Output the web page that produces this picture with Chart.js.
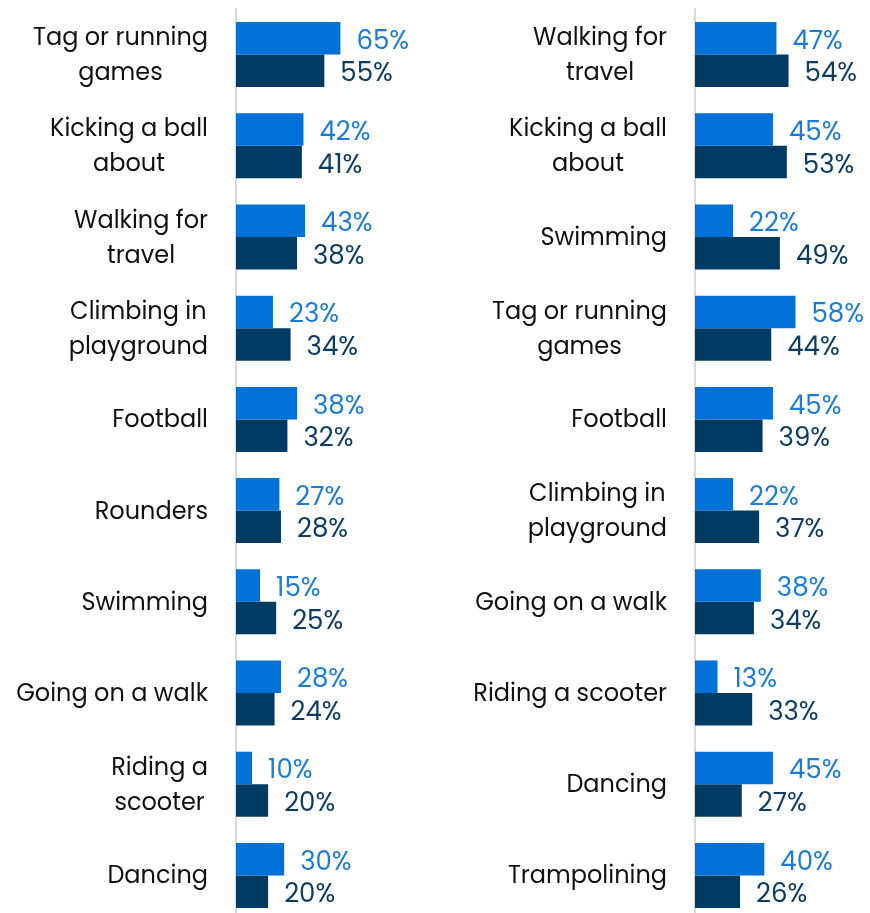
<!DOCTYPE html>
<html>
<head>
<meta charset="utf-8">
<script src="https://cdn.jsdelivr.net/npm/chart.js@4/dist/chart.umd.min.js"></script>
<style>
  html, body { margin: 0; padding: 0; background: #fff; overflow: hidden; }
  .wrap { position: absolute; top: 0; height: 930px; }
  #left-wrap { left: 0; width: 440px; }
  #right-wrap { left: 440px; width: 430px; }
</style>
</head>
<body>
<div class="wrap" id="left-wrap"><canvas id="left-chart"></canvas></div>
<div class="wrap" id="right-wrap"><canvas id="right-chart"></canvas></div>
<script>
(function () {
  'use strict';

  var leftCategories = [
    ['Tag or running', 'games'],
    ['Kicking a ball', 'about'],
    ['Walking for', 'travel'],
    ['Climbing in', 'playground'],
    'Football',
    'Rounders',
    'Swimming',
    'Going on a walk',
    ['Riding a', 'scooter'],
    'Dancing',
  ];
  var leftFirst = [65, 42, 43, 23, 38, 27, 15, 28, 10, 30];
  var leftSecond = [55, 41, 38, 34, 32, 28, 25, 24, 20, 20];

  var rightCategories = [
    ['Walking for', 'travel'],
    ['Kicking a ball', 'about'],
    'Swimming',
    ['Tag or running', 'games'],
    'Football',
    ['Climbing in', 'playground'],
    'Going on a walk',
    'Riding a scooter',
    'Dancing',
    'Trampolining',
  ];
  var rightFirst = [47, 45, 22, 58, 45, 22, 38, 13, 45, 40];
  var rightSecond = [54, 53, 49, 44, 39, 37, 34, 33, 27, 26];

  var barColors = ['#0071d7', '#003b64'];
  var labelColors = ['#1a7bd8', '#0b3c63'];
  var fontFamily = "Poppins, 'Open Sans', sans-serif";
  var lineGap = 35;

  // value labels to the right of each bar
  var valueLabels = {
    id: 'valueLabels',
    afterDatasetsDraw: function (chart) {
      var ctx = chart.ctx;
      ctx.save();
      ctx.font = '26px ' + fontFamily;
      ctx.textAlign = 'left';
      ctx.textBaseline = 'middle';
      chart.data.datasets.forEach(function (ds, i) {
        var meta = chart.getDatasetMeta(i);
        ctx.fillStyle = labelColors[i];
        meta.data.forEach(function (bar, j) {
          ctx.fillText(ds.data[j] + '%', bar.x + 16, bar.y + 4);
        });
      });
      ctx.restore();
    },
  };

  // category labels: block right-aligned, lines centred within the block
  var categoryLabels = {
    id: 'categoryLabels',
    afterDraw: function (chart) {
      var ctx = chart.ctx;
      var yScale = chart.scales.y;
      ctx.save();
      ctx.font = '24px ' + fontFamily;
      ctx.fillStyle = '#111';
      ctx.textAlign = 'center';
      ctx.textBaseline = 'middle';
      chart.data.labels.forEach(function (label, i) {
        var lines = Array.isArray(label) ? label : [label];
        var widest = 0;
        lines.forEach(function (l) {
          widest = Math.max(widest, ctx.measureText(l).width);
        });
        var cx = yScale.right - 28 - widest / 2;
        var cy = yScale.getPixelForTick(i);
        var top = cy - ((lines.length - 1) * lineGap) / 2;
        lines.forEach(function (l, k) {
          ctx.fillText(l, cx, top + k * lineGap + 2);
        });
      });
      ctx.restore();
    },
  };

  function makeChart(id, categories, first, second, axisWidth, xMax) {
    return new Chart(document.getElementById(id), {
      type: 'bar',
      data: {
        labels: categories,
        datasets: [
          { label: 'first', data: first, backgroundColor: barColors[0] },
          { label: 'second', data: second, backgroundColor: barColors[1] },
        ],
      },
      options: {
        indexAxis: 'y',
        responsive: true,
        maintainAspectRatio: false,
        animation: false,
        layout: { padding: { top: 9, bottom: 9, left: 0, right: 0 } },
        datasets: {
          bar: { categoryPercentage: 0.713, barPercentage: 1, borderWidth: 0 },
        },
        scales: {
          x: { display: false, min: 0, max: xMax },
          y: {
            afterFit: function (scale) {
              scale.width = axisWidth;
              scale.paddingTop = 0;
              scale.paddingBottom = 0;
            },
            grid: { display: false, drawTicks: false },
            border: { display: true, color: '#d9d9d9', width: 2 },
            ticks: { display: false },
          },
        },
        plugins: {
          legend: { display: false },
          tooltip: { enabled: false },
        },
      },
      plugins: [valueLabels, categoryLabels],
    });
  }

  makeChart('left-chart', leftCategories, leftFirst, leftSecond, 236, 127);
  makeChart('right-chart', rightCategories, rightFirst, rightSecond, 255, 101);
})();
</script>
</body>
</html>
